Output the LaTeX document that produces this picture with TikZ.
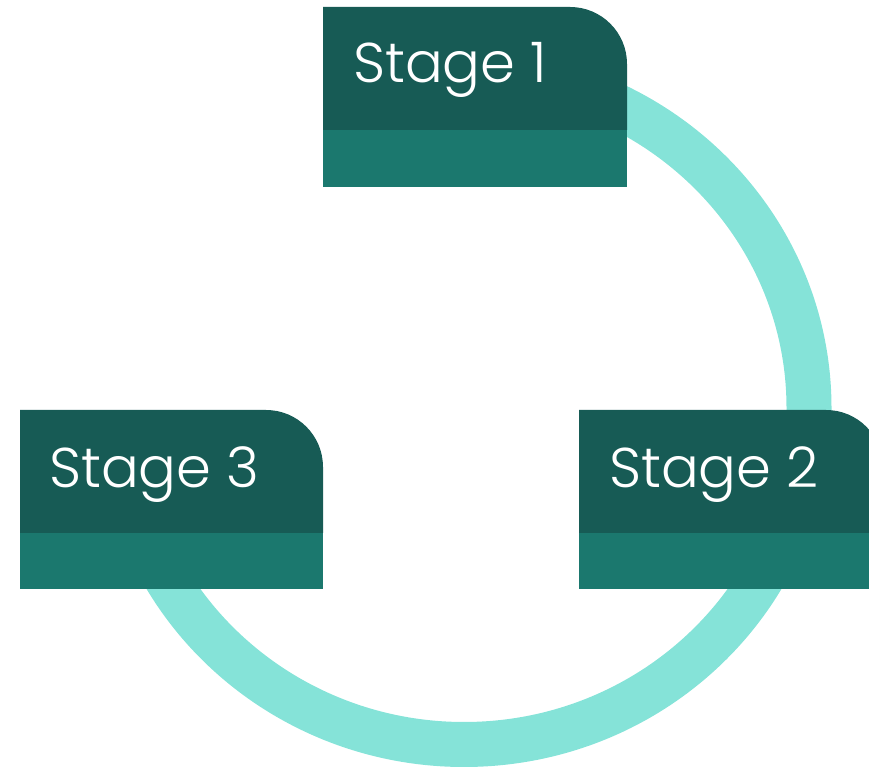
\documentclass[tikz,border=0pt]{standalone}
\usepackage{fontspec}
\setmainfont{Poppins Light}
\usetikzlibrary{positioning}
\definecolor{stagedark}{HTML}{175B55}
\definecolor{stagelight}{HTML}{1B786E}
\definecolor{ringcol}{HTML}{85E3D8}
\tikzset{
  darkpart/.style={fill=stagedark},
  lightpart/.style={fill=stagelight},
  stagelabel/.style={text=white, inner sep=0pt, anchor=base west,
    font=\fontsize{56}{68}\selectfont},
  ring/.style={draw=ringcol, line width=45pt}
}
\begin{document}
\begin{tikzpicture}[x=1pt,y=1pt]
   \useasboundingbox (0,0) rectangle (869,767);
   \clip (0,0) rectangle (869,767);
   % ring behind the stages
   \coordinate (c) at (464,359);
   \draw[ring] (c) ++(90:345 and 336.5) arc [start angle=90, end angle=-170, x radius=345, y radius=336.5];
   % stage 1
   \path[lightpart] (323,580) rectangle (627,637);
   \path[darkpart] (323,637) -- (323,760) [rounded corners=57] -- (627,760) [sharp corners] -- (627,637) -- cycle;
   \node[stagelabel] (s1) at (353,684) {Stage 1};
   % stage 2
   \path[lightpart] (579,178) rectangle (883,234);
   \path[darkpart] (579,234) -- (579,357) [rounded corners=57] -- (883,357) [sharp corners] -- (883,234) -- cycle;
   \node[stagelabel] (s2) at (609,279) {Stage 2};
   % stage 3
   \path[lightpart] (20,178) rectangle (323,234);
   \path[darkpart] (20,234) -- (20,357) [rounded corners=57] -- (323,357) [sharp corners] -- (323,234) -- cycle;
   \node[stagelabel] (s3) at (49,279) {Stage 3};
\end{tikzpicture}
\end{document}
